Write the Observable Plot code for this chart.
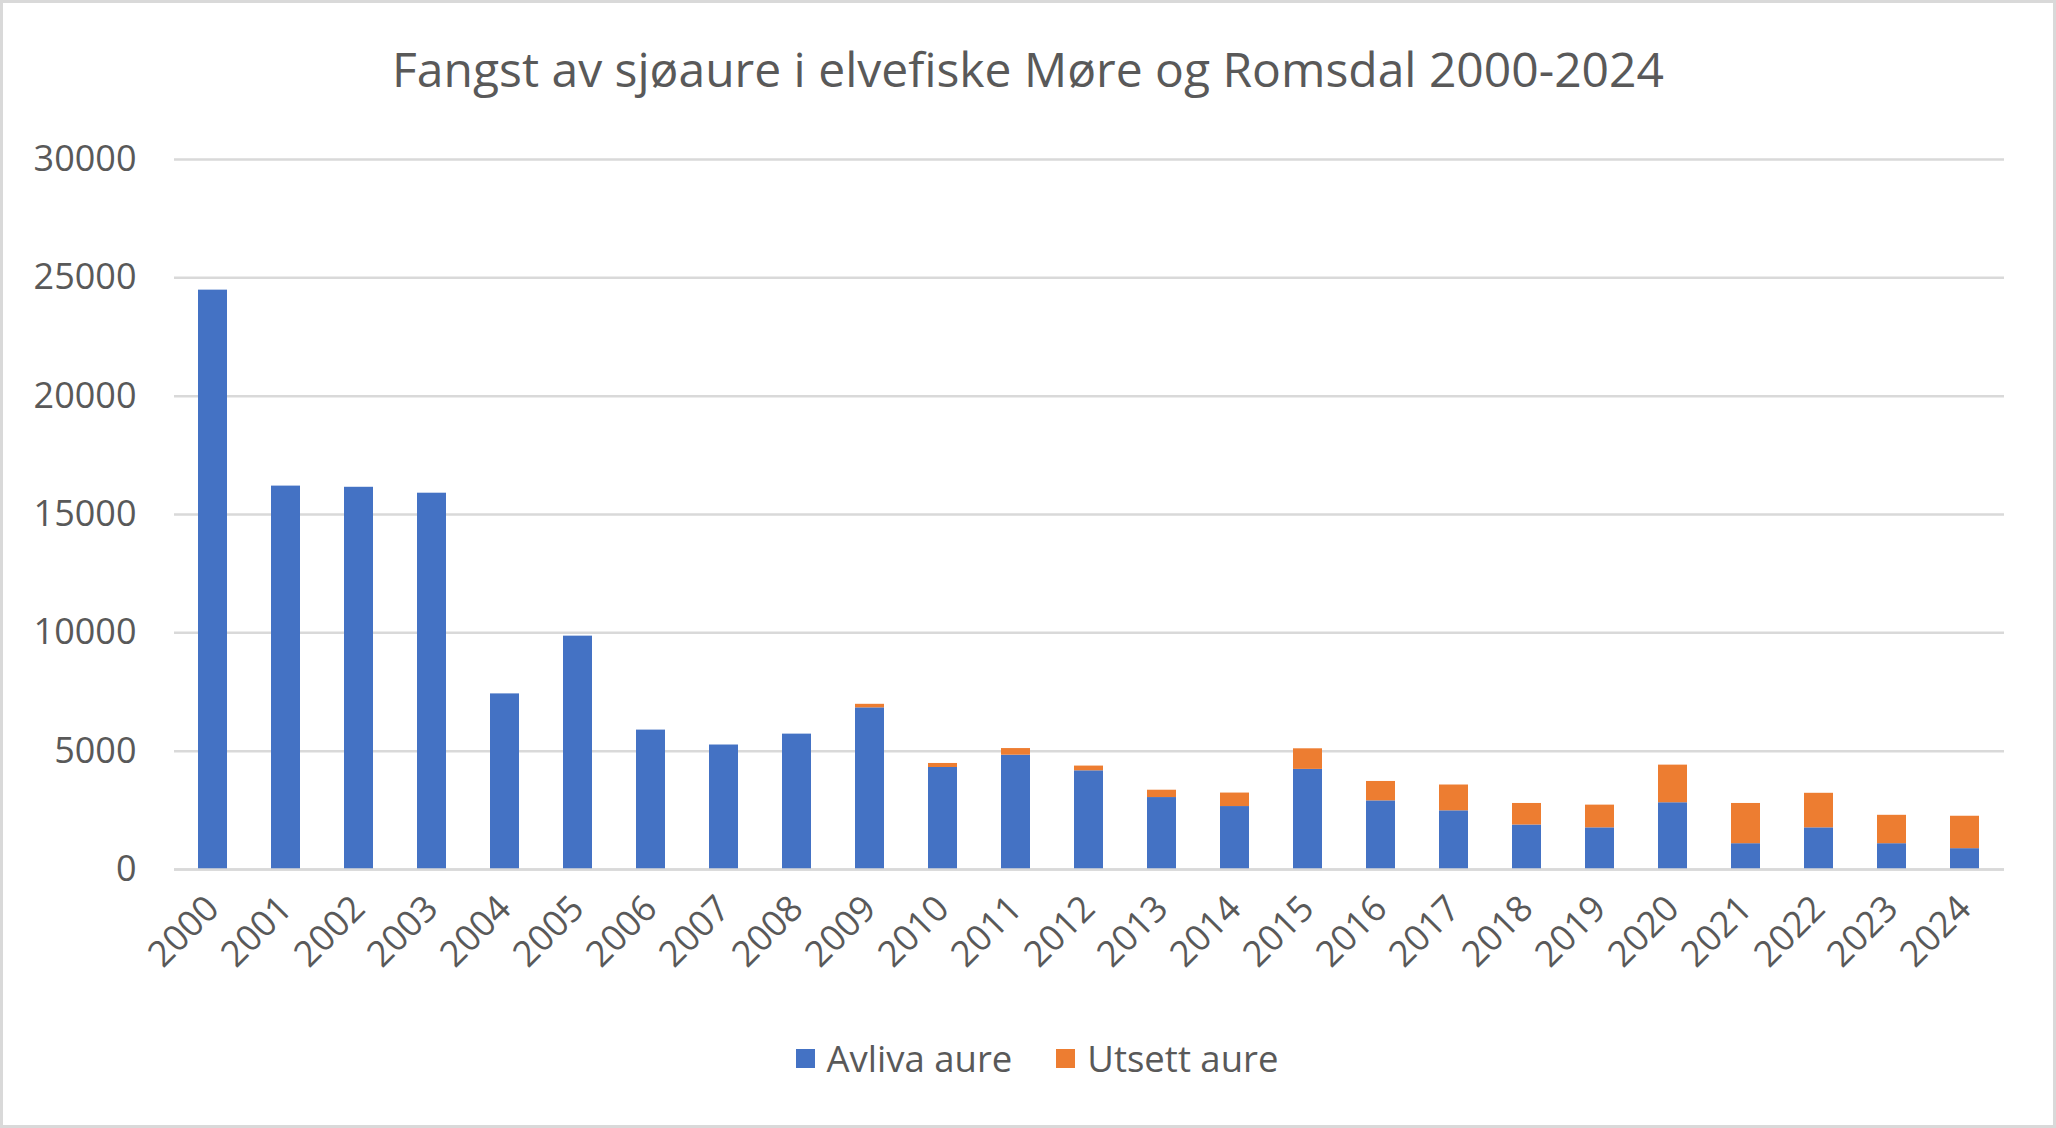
<!DOCTYPE html>
<html>
<head>
<meta charset="utf-8">
<script src="https://cdn.jsdelivr.net/npm/d3@7"></script>
<script src="https://cdn.jsdelivr.net/npm/@observablehq/plot@0.6"></script>
<style>
  html, body { margin: 0; padding: 0; background: #fff; }
  #wrap { position: relative; width: 2056px; height: 1128px; overflow: hidden; font-family: "Open Sans", sans-serif; color: #595959; }
  #frame { position: absolute; left: 0; top: 0; right: 0; bottom: 0; border: 3px solid #d9d9d9; box-sizing: border-box; pointer-events: none; }
  #title { position: absolute; left: 0; width: 2056px; top: 37px; text-align: center; font-size: 48px; line-height: 64px; color: #595959; }
  #chart { position: absolute; left: 0; top: 120px; }
  #legend { position: absolute; left: 0; width: 2056px; top: 1032px; height: 52px; box-sizing: border-box; padding-left: 18px; display: flex; justify-content: center; align-items: center; font-size: 36.5px; color: #595959; }
  .item { display: flex; align-items: center; margin: 0 22px; }
  .sw { width: 19px; height: 19px; margin-right: 12px; }
</style>
</head>
<body>
<div id="wrap">
  <div id="title">Fangst av sjøaure i elvefiske Møre og Romsdal 2000-2024</div>
  <div id="chart"></div>
  <div id="legend"></div>
  <div id="frame"></div>
</div>
<script>
const years = ["2000","2001","2002","2003","2004","2005","2006","2007","2008","2009","2010","2011","2012","2013","2014","2015","2016","2017","2018","2019","2020","2021","2022","2023","2024"];
const avliva = [24480,16200,16150,15900,7420,9860,5890,5260,5720,6830,4310,4830,4170,3040,2660,4230,2900,2480,1880,1760,2820,1090,1760,1090,880];
const utsett = [0,0,0,0,0,0,0,0,0,150,170,280,200,310,570,870,820,1090,910,960,1590,1700,1460,1200,1370];
const seriesNames = ["Avliva aure","Utsett aure"];
const seriesColors = ["#4472C4","#ED7D31"];
const yTicks = [0,5000,10000,15000,20000,25000,30000];

const data = years.flatMap((y, i) => [
  {year: y, serie: seriesNames[0], value: avliva[i]},
  {year: y, serie: seriesNames[1], value: utsett[i]}
]);

const chart = Plot.plot({
  width: 2056,
  height: 860,
  marginLeft: 174,
  marginRight: 52,
  marginTop: 39,
  marginBottom: 111,
  style: {fontFamily: "Open Sans, sans-serif", fontSize: "36px", color: "#595959", background: "transparent"},
  x: {domain: years, paddingInner: 0.6, paddingOuter: 0.3, label: null, tickRotate: -45, tickSize: 0, tickPadding: 33},
  y: {domain: [0, 30000], ticks: yTicks, label: null, tickSize: 0, tickPadding: 38, tickFormat: d => String(d)},
  color: {domain: seriesNames, range: seriesColors},
  marks: [
    Plot.gridY(yTicks, {stroke: "#d9d9d9", strokeOpacity: 1, strokeWidth: 2.5}),
    Plot.barY(data, {x: "year", y: "value", fill: "serie", order: seriesNames}),
    Plot.ruleY([0], {stroke: "#d9d9d9", strokeWidth: 2.5})
  ]
});
document.getElementById("chart").appendChild(chart);

const legend = document.getElementById("legend");
seriesNames.forEach((n, i) => {
  const it = document.createElement("div");
  it.className = "item";
  const sw = document.createElement("div");
  sw.className = "sw";
  sw.style.background = seriesColors[i];
  const t = document.createElement("span");
  t.textContent = n;
  it.appendChild(sw); it.appendChild(t);
  legend.appendChild(it);
});
</script>
</body>
</html>
